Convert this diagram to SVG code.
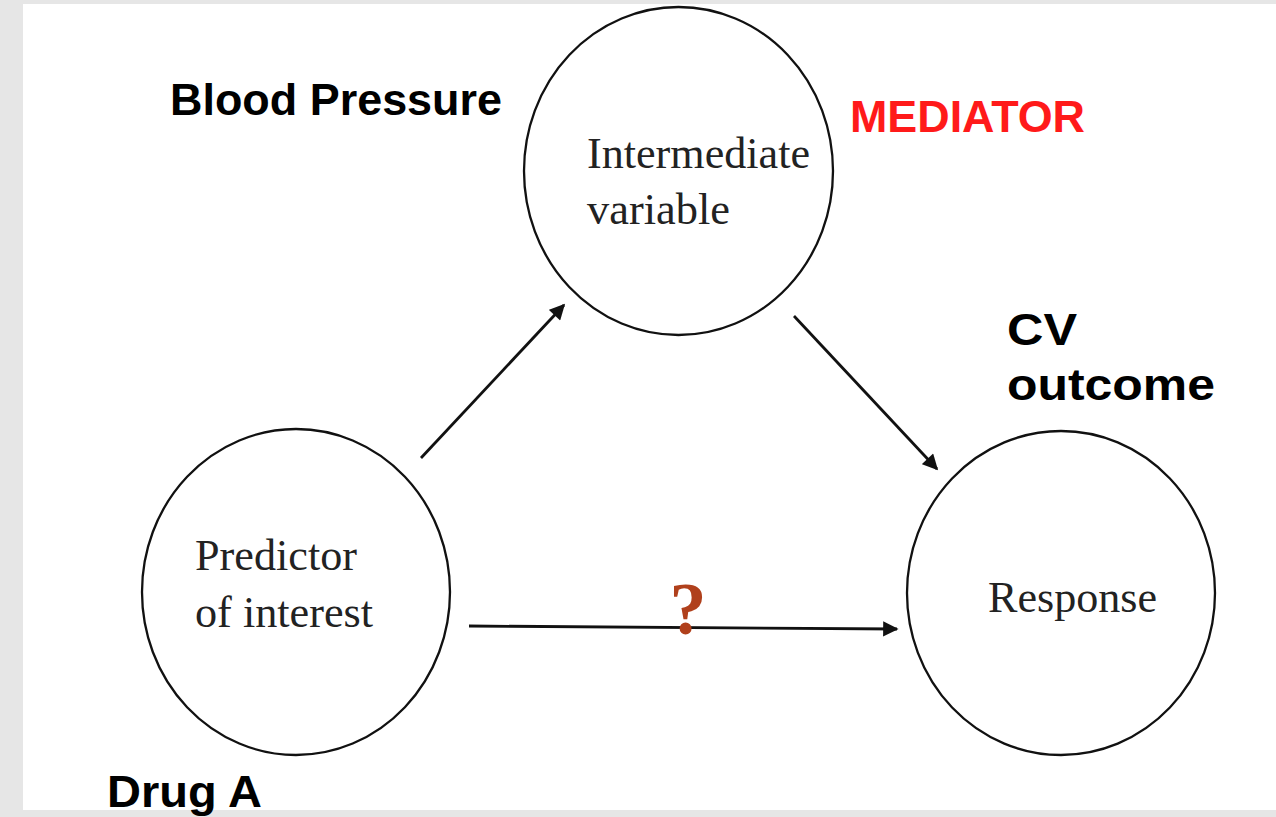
<svg xmlns="http://www.w3.org/2000/svg" width="1276" height="817" viewBox="0 0 1276 817">
  <style>
    .node { fill: none; stroke: #111; stroke-width: 2.3; }
    .inner { font-family: "Liberation Serif", "Times New Roman", serif; font-size: 44px; fill: #222; }
    .label { font-family: "Liberation Sans", Arial, sans-serif; font-weight: bold; font-size: 44px; fill: #000; }
    .edge { stroke: #111; stroke-width: 2.8; fill: none; marker-end: url(#arrow); }
  </style>
  <defs>
    <marker id="arrow" viewBox="0 0 10 10" refX="9" refY="5" markerWidth="6" markerHeight="5.5" orient="auto" markerUnits="strokeWidth">
      <path d="M0,0 L10,5 L0,10 z" fill="#111"/>
    </marker>
  </defs>

  <!-- page backdrop -->
  <rect x="0" y="0" width="1276" height="817" fill="#e6e6e6"/>
  <rect x="23" y="4" width="1253" height="806" fill="#ffffff"/>

  <!-- connectors -->
  <g id="connectors">
    <line class="edge" x1="421" y1="458" x2="564" y2="305"/>
    <line class="edge" x1="794" y1="316" x2="937" y2="469"/>
    <line class="edge" x1="469" y1="626" x2="897" y2="629"/>
    <text x="688" y="634" text-anchor="middle" font-family="Liberation Serif, Times New Roman, serif" font-weight="bold" font-size="74" fill="#b0401c">?</text>
  </g>

  <g id="node-intermediate">
    <ellipse class="node" cx="678.5" cy="171" rx="154.5" ry="164"/>
    <text class="inner" x="587" y="168" textLength="223" lengthAdjust="spacingAndGlyphs">Intermediate</text>
    <text class="inner" x="587" y="224" textLength="143" lengthAdjust="spacingAndGlyphs">variable</text>
  </g>

  <g id="node-predictor">
    <ellipse class="node" cx="296" cy="592" rx="154" ry="163"/>
    <text class="inner" x="195" y="570" textLength="162" lengthAdjust="spacingAndGlyphs">Predictor</text>
    <text class="inner" x="195" y="627" textLength="178" lengthAdjust="spacingAndGlyphs">of interest</text>
  </g>

  <g id="node-response">
    <ellipse class="node" cx="1061" cy="593" rx="154" ry="162"/>
    <text class="inner" x="988" y="612" textLength="169" lengthAdjust="spacingAndGlyphs">Response</text>
  </g>

  <!-- annotations -->
  <g id="labels">
    <text class="label" x="170" y="115" textLength="332" lengthAdjust="spacingAndGlyphs">Blood Pressure</text>
    <text class="label" x="850" y="132" textLength="235" lengthAdjust="spacingAndGlyphs" style="fill:#ff1a1a">MEDIATOR</text>
    <text class="label" x="1007" y="345" textLength="70" lengthAdjust="spacingAndGlyphs">CV</text>
    <text class="label" x="1007" y="400" textLength="208" lengthAdjust="spacingAndGlyphs">outcome</text>
    <text class="label" x="107" y="807" textLength="155" lengthAdjust="spacingAndGlyphs">Drug A</text>
  </g>
</svg>
